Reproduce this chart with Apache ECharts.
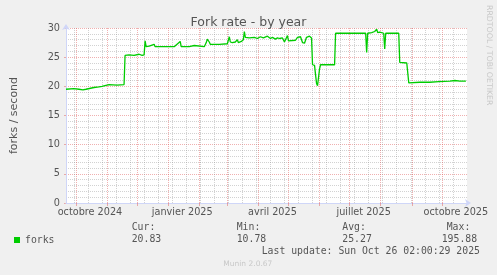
<!DOCTYPE html>
<html><head><meta charset="utf-8">
<script src="https://cdn.jsdelivr.net/npm/echarts@6/dist/echarts.min.js"></script>
<style>html,body{margin:0;padding:0;background:#f0f0f0}#c{width:497px;height:275px}</style>
</head><body><div id="c"></div>
<script>
const chartTitle = 'Fork rate - by year';
const yAxisName = 'forks / second';
const seriesName = 'forks';
const rangeStart = '2024-09-21 02:00:29';
const rangeEnd = '2025-10-26 02:00:29';
const monthNames = ['janvier','février','mars','avril','mai','juin','juillet','août','septembre','octobre','novembre','décembre'];
const labelDates = ['2024-10-15','2025-01-15','2025-04-15','2025-07-15','2025-10-15'];
const monthStarts = ['2024-10-01','2024-11-01','2024-12-01','2025-01-01','2025-02-01','2025-03-01','2025-04-01','2025-05-01','2025-06-01','2025-07-01','2025-08-01','2025-09-01','2025-10-01'];
const biweekLines = ['2024-09-29','2024-10-13','2024-10-27','2024-11-10','2024-11-24','2024-12-08','2024-12-22','2025-01-05','2025-01-19','2025-02-02','2025-02-16','2025-03-02','2025-03-16','2025-03-30','2025-04-13','2025-04-27','2025-05-11','2025-05-25','2025-06-08','2025-06-22','2025-07-06','2025-07-20','2025-08-03','2025-08-17','2025-08-31','2025-09-14','2025-09-28','2025-10-12'];

const dates = ['2024-09-21 02:00:29','2024-09-29','2024-10-04','2024-10-08','2024-10-11','2024-10-12','2024-10-19','2024-10-24','2024-10-27','2024-10-28','2024-11-03','2024-11-11','2024-11-18','2024-11-19','2024-11-23','2024-11-28','2024-12-03','2024-12-06','2024-12-08','2024-12-09','2024-12-10','2024-12-13','2024-12-18','2024-12-19','2024-12-28','2025-01-07','2025-01-13','2025-01-14','2025-01-22','2025-01-27','2025-01-28','2025-02-06','2025-02-08','2025-02-09','2025-02-10','2025-02-11','2025-02-12','2025-02-21','2025-03-01','2025-03-02','2025-03-03','2025-03-04','2025-03-06','2025-03-09','2025-03-11','2025-03-12','2025-03-15','2025-03-17','2025-03-18','2025-03-19','2025-03-23','2025-03-28','2025-03-31','2025-04-03','2025-04-06','2025-04-10','2025-04-13','2025-04-15','2025-04-18','2025-04-20','2025-04-22','2025-04-25','2025-04-27','2025-04-30','2025-05-01','2025-05-08','2025-05-10','2025-05-13','2025-05-15','2025-05-17','2025-05-19','2025-05-22','2025-05-24','2025-05-25','2025-05-27','2025-05-28','2025-05-29','2025-05-30','2025-05-31','2025-06-01','2025-06-02','2025-06-16','2025-06-17','2025-07-01','2025-07-17','2025-07-18','2025-07-19','2025-07-23','2025-07-26','2025-07-28','2025-07-29','2025-07-31','2025-08-04','2025-08-05','2025-08-06','2025-08-19','2025-08-20','2025-08-21','2025-08-27','2025-08-28','2025-08-29','2025-08-30','2025-09-09','2025-09-10','2025-09-14','2025-09-19','2025-09-28','2025-09-29','2025-10-09','2025-10-14','2025-10-19','2025-10-25'];
const values = [19.5,19.6,19.5,19.4,19.5,19.8,19.8,19.9,20.0,20.2,20.3,20.2,20.3,25.3,25.4,25.3,25.5,25.3,25.4,27.8,26.8,26.9,27.2,26.8,26.8,26.8,27.7,26.8,26.8,27.0,26.8,26.8,27.5,28.1,28.2,27.6,27.2,27.2,27.3,27.9,28.5,27.6,27.5,27.6,28.0,27.5,27.7,28.0,29.4,28.4,28.3,28.4,28.2,28.5,28.3,28.6,28.2,28.4,28.1,28.3,28.2,28.3,27.6,28.7,27.8,27.9,28.4,28.5,27.5,27.4,28.4,28.6,28.3,23.7,23.6,22.0,20.5,20.1,20.4,23.0,23.7,23.7,29.1,29.1,29.1,25.8,29.1,29.2,29.4,29.8,29.2,29.3,29.1,26.4,29.1,29.1,24.1,24.1,24.0,24.0,20.6,20.6,20.7,20.8,20.7,20.7,20.8,20.9,20.9,21.0,20.9,20.9];

const statLabels = ['Cur:','Min:','Avg:','Max:'];
const statValues = ['20.83','10.78','25.27','195.88'];
const lastUpdate = 'Last update: Sun Oct 26 02:00:29 2025';
const footer = 'Munin 2.0.67';
const watermark = 'RRDTOOL / TOBI OETIKER';

function ts(s){
  const m = s.match(/(\d+)-(\d+)-(\d+)(?: (\d+):(\d+):(\d+))?/);
  return new Date(+m[1], +m[2]-1, +m[3], +(m[4]||0), +(m[5]||0), +(m[6]||0)).getTime();
}

const GRID = 'rgba(143,143,143,0.4)';
const MGRID = 'rgba(222,79,79,0.45)';
const TXT = '#555';
const statLabelX = [131.7, 236.7, 342.3, 446.7];
const statValueX = [131.7, 236.7, 342.3, 441.7];

const graphics = [];
statLabels.forEach((t,i)=>graphics.push({type:'text', x:statLabelX[i], y:227.5, style:{text:t, textAlign:'left', textVerticalAlign:'middle', font:'9.8px "DejaVu Sans Mono"', fill:TXT}}));
statValues.forEach((t,i)=>graphics.push({type:'text', x:statValueX[i], y:239.5, style:{text:t, textAlign:'left', textVerticalAlign:'middle', font:'9.8px "DejaVu Sans Mono"', fill:TXT}}));
graphics.push({type:'text', x:261.7, y:251.7, style:{text:lastUpdate, textAlign:'left', textVerticalAlign:'middle', font:'9.8px "DejaVu Sans Mono"', fill:TXT}});
graphics.push({type:'text', x:223.3, y:264, style:{text:footer, textAlign:'left', textVerticalAlign:'middle', font:'7.5px "DejaVu Sans"', fill:'#c8c8c8'}});
graphics.push({type:'text', x:489, y:5, rotation:-Math.PI/2, style:{text:watermark, textAlign:'left', textVerticalAlign:'middle', font:'7.8px "DejaVu Sans"', fill:'#c8c8c8'}});

const chart = echarts.init(document.getElementById('c'), null, {renderer:'canvas'});
chart.setOption({
  backgroundColor:'#f0f0f0',
  animation:false,
  title:{text:chartTitle, left:'center', top:11, textStyle:{fontFamily:'DejaVu Sans', fontSize:12.5, fontWeight:'normal', color:TXT}},
  legend:{left:9, top:230, icon:'rect', itemWidth:6, itemHeight:6, itemGap:0, selectedMode:false, data:[seriesName],
    textStyle:{fontFamily:'DejaVu Sans Mono', fontSize:9.8, color:TXT}},
  grid:{left:66, right:30, top:28, bottom:72, show:true, backgroundColor:'#fff', borderWidth:0},
  xAxis:[
    {type:'value', min:ts(rangeStart), max:ts(rangeEnd), z:1,
      axisLine:{show:true, lineStyle:{color:'#cfd6f8'}, symbol:['none','arrow'], symbolSize:[6,6], symbolOffset:[0,4]},
      axisTick:{show:true, customValues:monthStarts.map(ts), length:3, lineStyle:{color:MGRID}},
      axisLabel:{customValues:labelDates.map(ts), formatter:function(v){const d=new Date(v);return monthNames[d.getMonth()]+' '+d.getFullYear();},
        fontFamily:'DejaVu Sans', fontSize:9.7, color:TXT, margin:4},
      splitLine:{show:true, lineStyle:{color:MGRID, type:'dotted'}}},
    {type:'value', min:ts(rangeStart), max:ts(rangeEnd), z:0, position:'bottom',
      axisLine:{show:false}, axisLabel:{show:false},
      axisTick:{show:false, customValues:biweekLines.map(ts)},
      splitLine:{show:true, lineStyle:{color:GRID, type:'dotted'}}}
  ],
  yAxis:{type:'value', min:0, max:30, interval:5, name:yAxisName, nameLocation:'middle', nameGap:46,
    nameTextStyle:{fontFamily:'DejaVu Sans', fontSize:11, color:TXT},
    axisLine:{show:true, lineStyle:{color:'#cfd6f8'}, symbol:['none','arrow'], symbolSize:[6,6], symbolOffset:[0,4]},
    axisTick:{show:true, length:2, lineStyle:{color:MGRID}},
    axisLabel:{fontFamily:'DejaVu Sans', fontSize:9.7, color:TXT, margin:6},
    splitLine:{show:true, lineStyle:{color:MGRID, type:'dotted'}},
    minorTick:{show:false, splitNumber:5},
    minorSplitLine:{show:true, lineStyle:{color:GRID, type:'dotted'}}},
  series:[
    {type:'line', name:seriesName, data:dates.map((d,i)=>[ts(d), values[i]]), showSymbol:false, symbol:'none',
      lineStyle:{color:'#00cc00', width:1.3}, itemStyle:{color:'#00cc00'}, z:5}
  ],
  graphic:graphics
});
</script></body></html>
